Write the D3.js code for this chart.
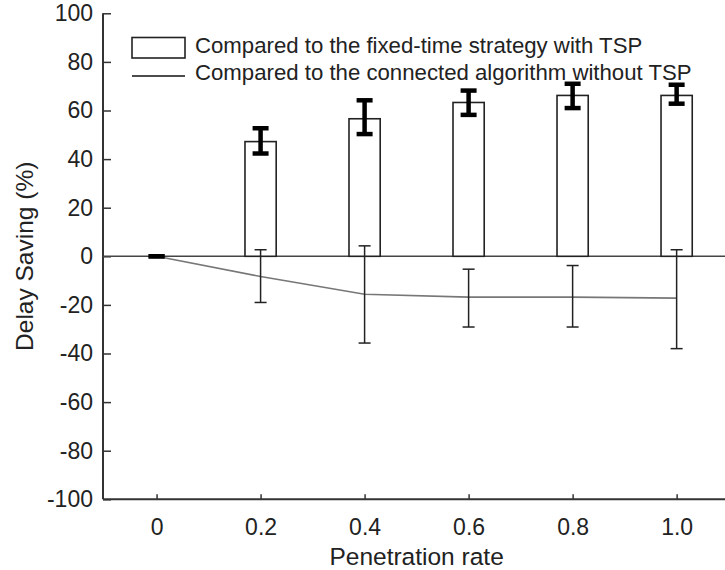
<!DOCTYPE html>
<html>
<head>
<meta charset="utf-8">
<script src="https://cdn.jsdelivr.net/npm/d3@7"></script>
<style>
  html, body { margin: 0; padding: 0; background: #fff; }
  svg { display: block; font-family: "Liberation Sans", Arial, sans-serif; }
</style>
</head>
<body>
<svg id="chart" width="725" height="570"></svg>
<script>
// ---- data ----
const rates = [0, 0.2, 0.4, 0.6, 0.8, 1.0];
const rateLabels = ["0", "0.2", "0.4", "0.6", "0.8", "1.0"];
// Compared to the fixed-time strategy with TSP (bars)
const fixedMean  = [0, 47.2, 56.6, 63.3, 66.2, 66.2];
const fixedLow   = [0, 42.3, 50.3, 58.2, 61.0, 62.8];
const fixedHigh  = [0, 52.7, 64.2, 68.2, 71.0, 70.6];
// Compared to the connected algorithm without TSP (line)
const connMean   = [0, -8.3, -15.6, -16.8, -16.8, -17.2];
const connLow    = [0, -19.0, -35.7, -29.1, -29.1, -38.0];
const connHigh   = [0, 2.7, 4.3, -5.3, -3.8, 2.7];
const yTicks = [100, 80, 60, 40, 20, 0, -20, -40, -60, -80, -100];
const legendLabels = ["Compared to the fixed-time strategy with TSP",
                      "Compared to the connected algorithm without TSP"];

(function () {
const svg = d3.select("#chart");
const mLeft = 103, mRight = 725, mTop = 13.3, mBottom = 499.3;

const x = d3.scaleLinear().domain([-0.103, 1.093]).range([mLeft, mRight]);
const y = d3.scaleLinear().domain([-100, 100]).range([mBottom, mTop]);
const step = x(0.2) - x(0);
const barW = step * 0.3;
const axisColor = "#333";
const textColor = "#222";
const ff = '"Liberation Sans", Arial, sans-serif';

// ---- axes ----
const yAxis = d3.axisLeft(y).tickValues(yTicks).tickSize(-8).tickPadding(18)
  .tickFormat(d => String(d));
const gy = svg.append("g").attr("transform", `translate(${mLeft},0)`).call(yAxis);
gy.select(".domain").remove();
gy.selectAll(".tick line").attr("stroke", axisColor).attr("stroke-width", 1.5);
gy.selectAll(".tick text").attr("font-size", 23).attr("fill", textColor)
  .attr("x", -10).attr("font-family", ff);

const xAxis = d3.axisBottom(x).tickValues(rates).tickSize(-5).tickPadding(14)
  .tickFormat((d, i) => rateLabels[i]);
const gx = svg.append("g").attr("transform", `translate(0,${mBottom})`).call(xAxis);
gx.select(".domain").remove();
gx.selectAll(".tick line").attr("stroke", axisColor).attr("stroke-width", 1.5);
gx.selectAll(".tick text").attr("font-size", 23).attr("fill", textColor)
  .attr("y", 19).attr("font-family", ff);

// axis lines
svg.append("line").attr("x1", mLeft).attr("x2", mLeft).attr("y1", y(100)).attr("y2", mBottom)
  .attr("stroke", axisColor).attr("stroke-width", 2);
svg.append("line").attr("x1", mLeft).attr("x2", mRight).attr("y1", mBottom).attr("y2", mBottom)
  .attr("stroke", axisColor).attr("stroke-width", 2);

// zero line
svg.append("line").attr("x1", mLeft).attr("x2", mRight).attr("y1", y(0)).attr("y2", y(0))
  .attr("stroke", "#444").attr("stroke-width", 1.5);

// ---- bars ----
const idx = d3.range(rates.length);
svg.append("g").selectAll("rect").data(idx.filter(i => fixedMean[i] > 0)).join("rect")
  .attr("x", i => x(rates[i]) - barW / 2)
  .attr("width", barW)
  .attr("y", i => y(fixedMean[i]))
  .attr("height", i => y(0) - y(fixedMean[i]))
  .attr("fill", "#fff").attr("stroke", "#222").attr("stroke-width", 1.6);

// ---- line ----
const line = d3.line().x(i => x(rates[i])).y(i => y(connMean[i]));
svg.append("path").datum(idx).attr("d", line)
  .attr("fill", "none").attr("stroke", "#777").attr("stroke-width", 1.6);

// thin error bars for line
const gThin = svg.append("g").attr("stroke", "#222").attr("stroke-width", 1.5);
idx.filter(i => connHigh[i] !== connLow[i]).forEach(i => {
  const cx = x(rates[i]);
  gThin.append("line").attr("x1", cx).attr("x2", cx).attr("y1", y(connHigh[i])).attr("y2", y(connLow[i]));
  gThin.append("line").attr("x1", cx - 6).attr("x2", cx + 6).attr("y1", y(connHigh[i])).attr("y2", y(connHigh[i]));
  gThin.append("line").attr("x1", cx - 6).attr("x2", cx + 6).attr("y1", y(connLow[i])).attr("y2", y(connLow[i]));
});

// thick error bars for bars
const gThick = svg.append("g").attr("stroke", "#000").attr("stroke-width", 4.5);
idx.forEach(i => {
  const cx = x(rates[i]);
  gThick.append("line").attr("x1", cx).attr("x2", cx).attr("y1", y(fixedHigh[i])).attr("y2", y(fixedLow[i]));
  gThick.append("line").attr("x1", cx - 8).attr("x2", cx + 8).attr("y1", y(fixedHigh[i])).attr("y2", y(fixedHigh[i]));
  gThick.append("line").attr("x1", cx - 8).attr("x2", cx + 8).attr("y1", y(fixedLow[i])).attr("y2", y(fixedLow[i]));
});

// ---- legend ----
const lg = svg.append("g");
lg.append("rect").attr("x", 132).attr("y", 37.5).attr("width", 53).attr("height", 20.5)
  .attr("fill", "#fff").attr("stroke", "#222").attr("stroke-width", 1.6);
lg.append("line").attr("x1", 132).attr("x2", 185).attr("y1", 76).attr("y2", 76)
  .attr("stroke", "#111").attr("stroke-width", 1.6);
lg.selectAll("text").data(legendLabels).join("text")
  .attr("x", 195).attr("y", (d, i) => 52.5 + i * 27.7)
  .attr("font-size", 22.2).attr("fill", textColor).text(d => d);

// ---- titles ----
svg.append("text").attr("x", (x(0) + x(1)) / 2).attr("y", 565)
  .attr("text-anchor", "middle").attr("font-size", 24.5).attr("fill", textColor)
  .text("Penetration rate");
svg.append("text").attr("transform", `translate(33,${y(0)}) rotate(-90)`)
  .attr("text-anchor", "middle").attr("font-size", 24.5).attr("fill", textColor)
  .text("Delay Saving (%)");
})();
</script>
</body>
</html>
